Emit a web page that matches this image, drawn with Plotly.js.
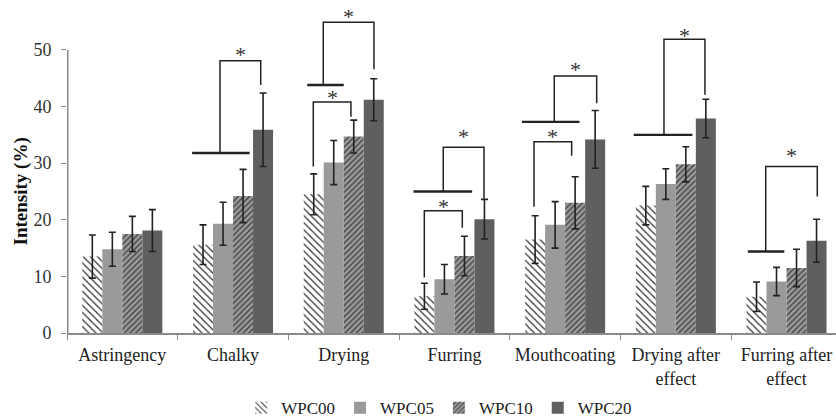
<!DOCTYPE html>
<html>
<head>
<meta charset="utf-8">
<script src="https://cdn.plot.ly/plotly-3.0.1.min.js"></script>
<style>html,body{margin:0;padding:0;background:#fff;}#chart{width:836px;height:420px;}</style>
</head>
<body>
<div id="chart"></div>
<script>
// ---- data ----
const categories = ["Astringency", "Chalky", "Drying", "Furring", "Mouthcoating", "Drying after<br>effect", "Furring after<br>effect"];
const seriesNames = ["WPC00", "WPC05", "WPC10", "WPC20"];
const wpc00 = [13.5, 15.6, 24.5, 6.5, 16.5, 22.5, 6.4];
const wpc00Err = [3.8, 3.5, 3.6, 2.3, 4.2, 3.4, 2.6];
const wpc05 = [14.8, 19.3, 30.1, 9.5, 19.1, 26.3, 9.1];
const wpc05Err = [3.0, 3.8, 3.9, 2.6, 4.1, 2.7, 2.5];
const wpc10 = [17.5, 24.2, 34.7, 13.6, 23.0, 29.8, 11.5];
const wpc10Err = [3.1, 4.7, 2.9, 3.5, 4.6, 3.1, 3.3];
const wpc20 = [18.1, 35.9, 41.2, 20.1, 34.2, 37.9, 16.3];
const wpc20Err = [3.7, 6.5, 3.7, 3.5, 5.1, 3.4, 3.8];
const yTickVals = [0, 10, 20, 30, 40, 50];
const yTitle = "Intensity (%)";

// significance marks: group bar [category, left offset, right offset, y]
const groupBars = [
  [1, -0.37, 0.15, 31.8],
  [2, -0.33, 0.00, 43.8],
  [3, -0.37, 0.16, 25.0],
  [4, -0.39, 0.13, 37.3],
  [5, -0.38, 0.15, 35.0],
  [6, -0.35, -0.02, 14.4]
];
// brackets: [category, left offset, left foot y, top y, right offset, right foot y, star y]
const brackets = [
  [1, -0.118, 31.8, 48.1, 0.250, 43.8, 50.0],
  [2, -0.185, 43.8, 54.9, 0.273, 46.6, 56.8],
  [2, -0.275, 29.4, 40.8, 0.065, 38.2, 42.4],
  [3, -0.101, 25.0, 32.8, 0.267, 23.7, 35.6],
  [3, -0.272, 9.8, 21.6, 0.071, 18.6, 23.2],
  [4, -0.098, 37.3, 45.4, 0.285, 40.6, 47.5],
  [4, -0.281, 22.3, 33.8, 0.059, 31.3, 35.6],
  [5, -0.107, 35.0, 51.9, 0.263, 42.1, 53.4],
  [6, -0.188, 14.4, 29.4, 0.278, 24.1, 32.2]
];
const starText = "*";

// ---- styles ----
const serif = "Times New Roman, Liberation Serif, DejaVu Serif, serif";
const ink = "#222";
const values = [wpc00, wpc05, wpc10, wpc20];
const errors = [wpc00Err, wpc05Err, wpc10Err, wpc20Err];
const markers = [
  {color: "#ffffff", pattern: {shape: "\\", fgcolor: "#333", bgcolor: "#ffffff", size: 5, solidity: 0.25}},
  {color: "#9a9a9a"},
  {color: "#8e8e8e", pattern: {shape: "/", fgcolor: "#3a3a3a", bgcolor: "#9a9a9a", size: 4, solidity: 0.3}},
  {color: "#5f5f5f"}
];

const traces = seriesNames.map((name, i) => ({
  type: "bar",
  name: name,
  x: categories,
  y: values[i],
  marker: Object.assign({line: {width: 0}}, markers[i]),
  error_y: {type: "data", array: errors[i], visible: true, color: ink, thickness: 1.6, width: 3.5}
}));

const shapes = [];
// y axis line (0..50)
shapes.push({type: "line", xref: "x", yref: "y", x0: -0.5, x1: -0.5, y0: 0, y1: 50,
  line: {color: "#8a8a8a", width: 3}});
groupBars.forEach(g => {
  shapes.push({type: "line", xref: "x", yref: "y", x0: g[0] + g[1], x1: g[0] + g[2], y0: g[3], y1: g[3],
    line: {color: ink, width: 2.4}});
});
const annotations = [];
brackets.forEach(b => {
  const xl = b[0] + b[1], xr = b[0] + b[4];
  shapes.push({type: "path", xref: "x", yref: "y",
    path: `M ${xl} ${b[2]} L ${xl} ${b[3]} L ${xr} ${b[3]} L ${xr} ${b[5]}`,
    line: {color: ink, width: 1.5}});
  annotations.push({xref: "x", yref: "y", x: (xl + xr) / 2, y: b[6], text: starText, showarrow: false,
    yanchor: "middle", yshift: -5, font: {family: serif, size: 22, color: "#333"}});
});
annotations.push({xref: "paper", yref: "y", x: 0, y: 25, xshift: -46, text: yTitle, textangle: -90,
  showarrow: false, xanchor: "center", yanchor: "middle",
  font: {family: serif, size: 19, color: "#111", weight: "bold"}});

const layout = {
  width: 836, height: 420,
  margin: {l: 67, r: 0, t: 0, b: 87, pad: 0, autoexpand: false},
  paper_bgcolor: "#fff", plot_bgcolor: "#fff",
  font: {family: serif, color: "#333", size: 18},
  barmode: "group", bargap: 0.277, bargroupgap: 0,
  showlegend: true,
  legend: {orientation: "h", x: 0.484, xanchor: "center", y: -0.172, yanchor: "top",
    font: {family: serif, size: 17, color: "#222"}, itemwidth: 30, tracegroupgap: 0},
  xaxis: {type: "category", range: [-0.5, 6.447], showline: true, linecolor: "#8a8a8a", linewidth: 1.5,
    ticks: "outside", tickson: "boundaries", ticklen: 5, tickcolor: "#8a8a8a", tickwidth: 1,
    ticklabelstandoff: 5, automargin: false,
    showgrid: false, zeroline: false, tickfont: {family: serif, size: 18, color: "#222"}, fixedrange: true},
  yaxis: {range: [0, 58.82], tickvals: yTickVals, ticks: "outside", ticklen: 5, tickcolor: "#8a8a8a",
    showline: false, showgrid: false, zeroline: false, ticklabelstandoff: 6, automargin: false,
    tickfont: {family: serif, size: 18, color: "#333"}, fixedrange: true},
  shapes: shapes,
  annotations: annotations
};

Plotly.newPlot("chart", traces, layout, {staticPlot: true, displayModeBar: false});
</script>
</body>
</html>
